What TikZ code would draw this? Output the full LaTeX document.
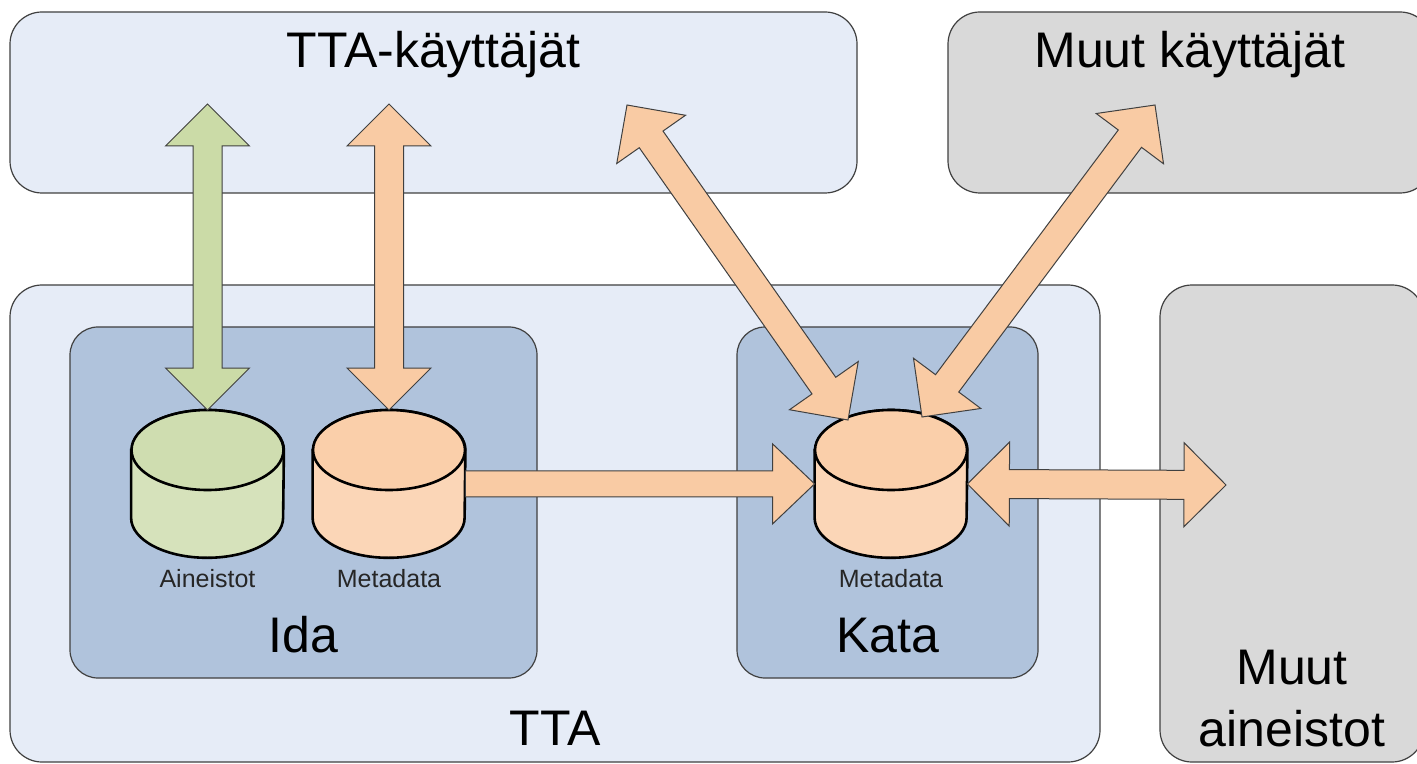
\documentclass[tikz,border=0pt]{standalone}
\usepackage{fontspec}
\setmainfont{Liberation Sans}
\usepackage{tikz}
\usetikzlibrary{calc}
\definecolor{boxblue}{RGB}{230, 236, 247}
\definecolor{boxgray}{RGB}{217, 217, 217}
\definecolor{boxsteel}{RGB}{176, 195, 220}
\definecolor{myorange}{RGB}{249, 203, 164}
\definecolor{mygreen}{RGB}{203, 219, 167}
\definecolor{cylorange}{RGB}{251, 214, 183}
\definecolor{cylorangetop}{RGB}{250, 207, 170}
\definecolor{cylgreen}{RGB}{214, 226, 187}
\definecolor{cylgreentop}{RGB}{207, 221, 176}
\definecolor{edgegray}{RGB}{64, 64, 64}
\tikzset{
  panel/.style = {draw = edgegray, line width = 0.6pt, rounded corners = 16pt, inner sep = 0pt},
  subpanel/.style = {panel, fill = boxsteel, rounded corners = 14pt},
  dbspot/.style = {minimum width = 76pt, minimum height = 73.5pt, inner sep = 0pt},
  dbline/.style = {draw = black, line width = 1.3pt},
  blockarrow/.style = {draw = edgegray, line width = 0.5pt, line join = miter},
  biglabel/.style = {font = \fontsize{25pt}{31pt}\selectfont, inner sep = 0pt, align = center},
  smalllabel/.style = {font = \fontsize{12.5pt}{15pt}\selectfont, text = black!85, inner sep = 0pt}
}
% database drum over node #1: #2 body fill, #3 top fill
\newcommand{\database}[3]{%
  \draw[dbline, fill = #2] ($(#1.north west) + (0,40)$) -- ($(#1.south west) + (0,-40)$)
    arc[start angle = 180, end angle = 360, x radius = 38pt, y radius = 20pt]
    -- ($(#1.north east) + (0,40)$)
    arc[start angle = 0, end angle = 180, x radius = 38pt, y radius = 20pt] -- cycle;
  \draw[dbline, fill = #3] ($(#1.north) + (0,40)$) ellipse[x radius = 38pt, y radius = 20pt];}
% block arrows: #1 fill, #2 from, #3 to
\newcommand{\twoway}[3]{%
  \draw[blockarrow, fill = #1] let \p1 = ($(#3) - (#2)$), \n1 = {atan2(\y1, \x1)} in
    (#2) -- ($(#2) + (\n1:21pt) + (\n1 + 90:21pt)$) -- ($(#2) + (\n1:21pt) + (\n1 + 90:7.25pt)$)
    -- ($(#3) + (\n1 + 180:21pt) + (\n1 + 90:7.25pt)$) -- ($(#3) + (\n1 + 180:21pt) + (\n1 + 90:21pt)$)
    -- (#3)
    -- ($(#3) + (\n1 + 180:21pt) + (\n1 - 90:21pt)$) -- ($(#3) + (\n1 + 180:21pt) + (\n1 - 90:7.25pt)$)
    -- ($(#2) + (\n1:21pt) + (\n1 - 90:7.25pt)$) -- ($(#2) + (\n1:21pt) + (\n1 - 90:21pt)$) -- cycle;}
\newcommand{\oneway}[3]{%
  \draw[blockarrow, fill = #1] let \p1 = ($(#3) - (#2)$), \n1 = {atan2(\y1, \x1)} in
    ($(#2) + (\n1 + 90:6.5pt)$)
    -- ($(#3) + (\n1 + 180:21pt) + (\n1 + 90:6.5pt)$) -- ($(#3) + (\n1 + 180:21pt) + (\n1 + 90:20pt)$)
    -- (#3)
    -- ($(#3) + (\n1 + 180:21pt) + (\n1 - 90:20pt)$) -- ($(#3) + (\n1 + 180:21pt) + (\n1 - 90:6.5pt)$)
    -- ($(#2) + (\n1 - 90:6.5pt)$) -- cycle;}

\begin{document}
\begin{tikzpicture}[x = 0.5pt, y = -0.5pt]
\useasboundingbox (0,0) rectangle (1417,764);
\clip (0,0) rectangle (1417,764);
\node[panel, fill = boxblue, minimum width = 545pt, minimum height = 238.5pt] (tta) at (555, 523.5) {};
\node[panel, fill = boxgray, minimum width = 132pt, minimum height = 238.5pt] (otherdata) at (1292, 523.5) {};
\node[panel, fill = boxblue, minimum width = 423.5pt, minimum height = 90.5pt] (ttausers) at (433.5, 102.5) {};
\node[panel, fill = boxgray, minimum width = 242pt, minimum height = 90.5pt] (otherusers) at (1190, 102.5) {};
\node[subpanel, minimum width = 233.5pt, minimum height = 175.5pt] (ida) at (303.5, 502.5) {};
\node[subpanel, minimum width = 150.5pt, minimum height = 175.5pt] (kata) at (887.5, 502.5) {};

\node[biglabel, anchor = base] (ttauserstext) at (433.5, 68) {TTA-käyttäjät};
\node[biglabel, anchor = base] (otheruserstext) at (1190, 68) {Muut käyttäjät};
\node[biglabel, anchor = base] (idatext) at (303.5, 652) {Ida};
\node[biglabel, anchor = base] (katatext) at (887.5, 652) {Kata};
\node[biglabel, anchor = base] (ttatext) at (555, 745) {TTA};
\node[biglabel, anchor = south] (otherdatatext) at (1292, 747) {Muut\\aineistot};

\node[dbspot, anchor = north] (aineistot) at (207.5, 410) {};
\node[dbspot, anchor = north] (idameta) at (389, 410) {};
\node[dbspot, anchor = north] (katameta) at (891, 410) {};
\database{aineistot}{cylgreen}{cylgreentop}
\database{idameta}{cylorange}{cylorangetop}
\database{katameta}{cylorange}{cylorangetop}
\node[smalllabel, anchor = base] (aineistottext) at (207.5, 587) {Aineistot};
\node[smalllabel, anchor = base] (idametatext) at (389, 587) {Metadata};
\node[smalllabel, anchor = base] (katametatext) at (891, 587) {Metadata};

\coordinate (aineistotip) at (207.5, 104);
\coordinate (idametatip) at (389, 104);
\coordinate (ttauserstip) at (627, 105);
\coordinate (otheruserstip) at (1155, 105);
\coordinate (otherdatatip) at (1226, 485);
\coordinate (katalefttip) at ($(katameta.north) + (-43, 10)$);
\coordinate (katarighttip) at ($(katameta.north) + (31, 7)$);
\twoway{mygreen}{aineistot.north}{aineistotip}
\twoway{myorange}{idameta.north}{idametatip}
\oneway{myorange}{idameta.east}{katameta.west}
\twoway{myorange}{katameta.east}{otherdatatip}
\twoway{myorange}{katalefttip}{ttauserstip}
\twoway{myorange}{katarighttip}{otheruserstip}
\end{tikzpicture}
\end{document}
